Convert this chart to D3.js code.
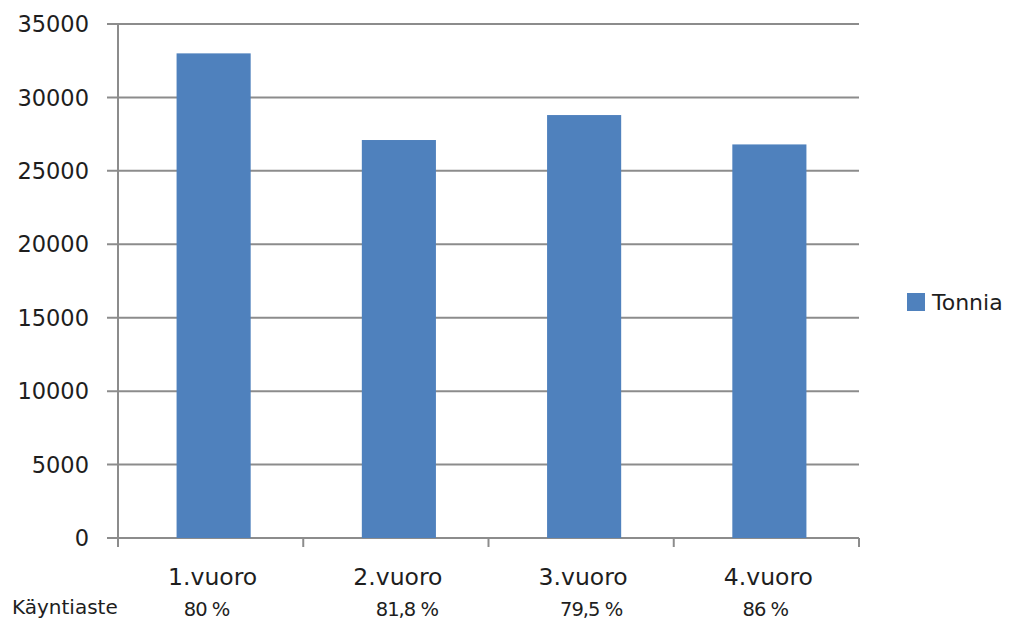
<!DOCTYPE html>
<html>
<head>
<meta charset="utf-8">
<script src="https://cdn.jsdelivr.net/npm/d3@7"></script>
<style>
  html, body { margin: 0; padding: 0; background: #fff; }
  svg { display: block; }
  text { font-family: "DejaVu Sans", sans-serif; fill: #1e1e1e; }
</style>
</head>
<body>
<svg id="chart" width="1011" height="622"></svg>
<script>
// Tonnage per shift, with the utilisation rate shown under each shift label
const shifts = ["1.vuoro", "2.vuoro", "3.vuoro", "4.vuoro"];
const tonnes = [33000, 27100, 28800, 26800];
const utilisation = ["80 %", "81,8 %", "79,5 %", "86 %"];
const yTicks = [0, 5000, 10000, 15000, 20000, 25000, 30000, 35000];
const seriesName = "Tonnia";
const rowTitle = "Käyntiaste";

// small horizontal nudges for the utilisation notes
const noteNudge = [-4, 11, 10, -1];

const svg = d3.select("#chart");
const plot = { left: 118, right: 859, top: 24, bottom: 538 };
const gridColor = "#8c8c8c";
const barColor = "#4f81bd";

const band = d3.scaleBand().domain(shifts).range([plot.left, plot.right]);
const x = d3.scaleBand().domain(shifts).range([plot.left + 3, plot.right + 3]).paddingInner(0.6).paddingOuter(0.3);
const y = d3.scaleLinear().domain([0, 35000]).range([plot.bottom, plot.top]);

// horizontal gridlines, extended left as tick marks
svg.append("g").selectAll("line").data(yTicks).join("line")
  .attr("x1", plot.left - 11).attr("x2", plot.right)
  .attr("y1", d => y(d)).attr("y2", d => y(d))
  .attr("stroke", gridColor).attr("stroke-width", 2);

// y tick labels
svg.append("g").selectAll("text").data(yTicks).join("text")
  .attr("x", 89).attr("y", d => y(d))
  .attr("dy", "0.36em")
  .attr("text-anchor", "end")
  .style("font-size", "22.5px")
  .text(d => d);

// bars
svg.append("g").selectAll("rect").data(shifts).join("rect")
  .attr("x", d => x(d))
  .attr("width", x.bandwidth())
  .attr("y", (d, i) => y(tonnes[i]))
  .attr("height", (d, i) => y(0) - y(tonnes[i]))
  .attr("fill", barColor);

// vertical axis line
svg.append("line")
  .attr("x1", plot.left).attr("x2", plot.left)
  .attr("y1", plot.top).attr("y2", plot.bottom + 9)
  .attr("stroke", gridColor).attr("stroke-width", 2);

// category ticks at band boundaries
const bounds = shifts.map(d => band(d)).concat([plot.right]);
svg.append("g").selectAll("line").data(bounds).join("line")
  .attr("x1", d => d).attr("x2", d => d)
  .attr("y1", plot.bottom).attr("y2", plot.bottom + 9)
  .attr("stroke", gridColor).attr("stroke-width", 2);

// category labels
svg.append("g").selectAll("text").data(shifts).join("text")
  .attr("x", d => band(d) + band.bandwidth() / 2 + 2)
  .attr("y", 585)
  .attr("text-anchor", "middle")
  .style("font-size", "23.5px")
  .text(d => d);

// utilisation row
svg.append("text")
  .attr("x", 12).attr("y", 614)
  .style("font-size", "20px")
  .text(rowTitle);

svg.append("g").selectAll("text").data(utilisation).join("text")
  .attr("x", (d, i) => band(shifts[i]) + band.bandwidth() / 2 + noteNudge[i])
  .attr("y", 616)
  .attr("text-anchor", "middle")
  .style("font-size", "19.5px")
  .style("letter-spacing", "-1px")
  .text(d => d);

// legend
const legend = svg.append("g");
legend.append("rect")
  .attr("x", 907).attr("y", 293).attr("width", 18).attr("height", 18)
  .attr("fill", barColor);
legend.append("text")
  .attr("x", 932).attr("y", 310)
  .style("font-size", "22px")
  .text(seriesName);
</script>
</body>
</html>
